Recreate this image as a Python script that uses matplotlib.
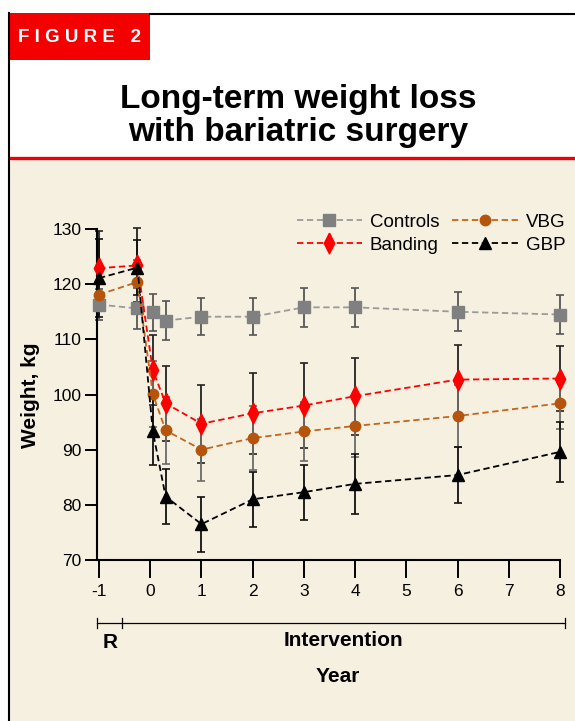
import matplotlib
matplotlib.use("Agg")
import matplotlib.pyplot as plt
from matplotlib.patches import Rectangle
from matplotlib.lines import Line2D

plt.rcParams['font.family'] = ['Liberation Sans', 'DejaVu Sans']

# years (R = run-in year before surgery)
years = [-1, -0.25, 0.05, 0.3, 1, 2, 3, 4, 6, 8]
xticks = [-1, 0, 1, 2, 3, 4, 5, 6, 7, 8]
yticks = [70, 80, 90, 100, 110, 120, 130]

controls = [116.3, 115.6, 114.9, 113.4, 114.1, 114.1, 115.8, 115.8, 115.0, 114.5]
controls_sd = [2.8, 3.7, 3.4, 3.5, 3.4, 3.4, 3.5, 3.5, 3.5, 3.5]
banding = [122.9, 123.4, 104.4, 98.4, 94.7, 96.6, 98.0, 99.7, 102.7, 102.9]
banding_sd = [6.7, 6.7, 6.3, 6.8, 7.1, 7.3, 7.7, 7.0, 6.3, 5.9]
vbg = [118.1, 120.4, 100.1, 93.5, 90.0, 92.1, 93.3, 94.3, 96.1, 98.4]
vbg_sd = [4.6, 4.0, 6.0, 6.1, 5.6, 5.8, 5.4, 5.7, 5.6, 4.6]
gbp = [121.1, 123.0, 93.3, 81.5, 76.5, 81.0, 82.3, 83.8, 85.4, 89.6]
gbp_sd = [7.0, 5.0, 6.0, 5.0, 5.0, 5.0, 5.0, 5.5, 5.0, 5.5]

W, H = 575, 721
def fx(x):
    return x / W
def fy(y):
    return 1 - y / H

# narrow diamond like the original
thin_diamond = [(0, 1), (0.5, 0), (0, -1), (-0.5, 0), (0, 1)]

fig = plt.figure(figsize=(W / 100, H / 100), dpi=100, facecolor='white')

# frame, header, background
fig.add_artist(Rectangle((fx(10), 0), 1 - fx(10), fy(159), transform=fig.transFigure,
                         facecolor='#f6f0e0', edgecolor='none', zorder=0))
fig.add_artist(Line2D([fx(10), 1], [fy(158), fy(158)], transform=fig.transFigure,
                      color='#ee0000', lw=2.4))
fig.add_artist(Line2D([fx(9), fx(9)], [fy(13), 0], transform=fig.transFigure,
                      color='black', lw=1.5))
fig.add_artist(Line2D([fx(150), 1], [fy(13.5), fy(13.5)], transform=fig.transFigure,
                      color='black', lw=1.5))
fig.add_artist(Rectangle((fx(8), fy(60)), fx(142), 47 / H, transform=fig.transFigure,
                         facecolor='#f50000', edgecolor='none'))
fig.text(fx(79), fy(37), 'F I G U R E   2', color='white', fontsize=13.5,
         fontweight='bold', ha='center', va='center')
fig.text(fx(298), fy(116), 'Long-term weight loss\nwith bariatric surgery',
         fontsize=24, fontweight='bold', ha='center', va='center', linespacing=1.08)

ax = fig.add_axes([fx(97), fy(560), (560 - 97) / W, (560 - 229) / H])
ax.set_facecolor('none')

series = [
    ('Controls', controls, controls_sd, 's', 8, '#808080', '#9a9a9a', '#555555'),
    ('Banding', banding, banding_sd, thin_diamond, 15, '#ff0000', '#ff0000', '#222222'),
    ('VBG', vbg, vbg_sd, 'o', 7.5, '#b5540c', '#c4661c', '#6a6a6a'),
    ('GBP', gbp, gbp_sd, '^', 8, 'black', 'black', '#111111'),
]

for name, vals, sd, m, ms, mc, lc, ec in series:
    ax.errorbar(years, vals, yerr=sd, fmt='none', ecolor=ec, elinewidth=1.3,
                capsize=3, capthick=1.2, clip_on=False, zorder=2)

handles = []
for name, vals, sd, m, ms, mc, lc, ec in series:
    h, = ax.plot(years, vals, linestyle=(0, (3.5, 2)), color=lc, lw=1.3,
                 marker=m, markersize=ms, markerfacecolor=mc, markeredgecolor=mc,
                 clip_on=False, zorder=3, label=name)
    handles.append(h)

ax.set_xlim(-1.04, 8.0)
ax.set_ylim(70, 130)
ax.set_xticks(xticks)
ax.set_xticklabels([str(t) for t in xticks])
ax.set_yticks(yticks)
ax.spines['top'].set_visible(False)
ax.spines['right'].set_visible(False)
ax.spines['left'].set_linewidth(1.5)
ax.spines['bottom'].set_linewidth(1.5)
ax.tick_params(axis='x', direction='out', length=13, width=1.4, labelsize=12.5, pad=4)
ax.tick_params(axis='y', direction='out', length=9, width=1.4, labelsize=12.5, pad=2)

ax.legend(handles=handles, loc='upper right', bbox_to_anchor=(fx(582), fy(197)),
          bbox_transform=fig.transFigure, ncol=2, frameon=False, fontsize=13.5,
          handlelength=3.5, handletextpad=0.4, columnspacing=0.7, labelspacing=0.3)

fig.text(fx(30), fy(395), 'Weight, kg', rotation=90, fontsize=15, fontweight='bold',
         ha='center', va='center')

# run-in / intervention bracket
trans = ax.get_xaxis_transform()
yb = (560 - 623) / (560 - 229)
ax.plot([-1.04, 8.1], [yb, yb], color='black', lw=0.9, transform=trans, clip_on=False)
for xb in [-1.04, -0.55, 8.1]:
    ax.plot([xb, xb], [yb - 0.015, yb + 0.015], color='black', lw=0.9,
            transform=trans, clip_on=False)
ax.text(-0.78, (560 - 642) / (560 - 229), 'R', transform=trans, fontsize=15,
        fontweight='bold', ha='center', va='center')
ax.text(3.78, (560 - 640) / (560 - 229), 'Intervention', transform=trans, fontsize=15,
        fontweight='bold', ha='center', va='center')
fig.text(fx(338), fy(677), 'Year', fontsize=15, fontweight='bold', ha='center', va='center')

fig.savefig('out.png', dpi=100, facecolor='white')
